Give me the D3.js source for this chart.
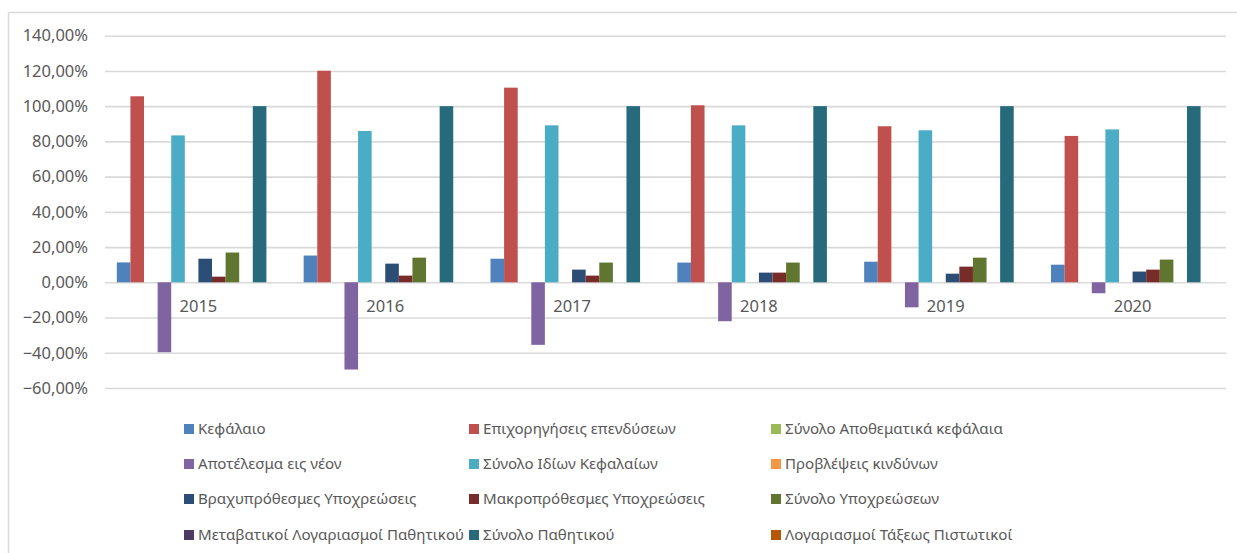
<!DOCTYPE html>
<html>
<head>
<meta charset="utf-8">
<script src="https://cdn.jsdelivr.net/npm/d3@7"></script>
<style>
  html, body { margin: 0; padding: 0; background: #fff; }
  svg { display: block; }
  text { font-family: "Noto Sans", sans-serif; fill: #595959; }
</style>
</head>
<body>
<svg id="chart" width="1237" height="553"></svg>
<script>
const years = ["2015", "2016", "2017", "2018", "2019", "2020"];
const seriesNames = [
  "Κεφάλαιο",
  "Επιχορηγήσεις επενδύσεων",
  "Σύνολο Αποθεματικά κεφάλαια",
  "Αποτέλεσμα εις νέον",
  "Σύνολο Ιδίων Κεφαλαίων",
  "Προβλέψεις κινδύνων",
  "Βραχυπρόθεσμες Υποχρεώσεις",
  "Μακροπρόθεσμες Υποχρεώσεις",
  "Σύνολο Υποχρεώσεων",
  "Μεταβατικοί Λογαριασμοί Παθητικού",
  "Σύνολο Παθητικού",
  "Λογαριασμοί Τάξεως Πιστωτικοί"
];
const seriesColors = ["#4F81BD", "#C0504D", "#9BBB59", "#8064A2", "#4BACC6", "#F79646",
                      "#2C4D75", "#772C2A", "#5F7530", "#4D3B62", "#276A7C", "#B65708"];
// values in %, one array per series, ordered by years
const kefalaio        = [11.3, 15.2, 13.4, 11.2, 11.7, 10.0];
const epichorigiseis  = [105.6, 120.1, 110.5, 100.5, 88.6, 83.1];
const apothematika    = [0, 0, 0, 0, 0, 0];
const apotelesma      = [-39.7, -49.5, -35.5, -22.1, -14.2, -6.2];
const idiaKefalaia    = [83.4, 85.9, 89.1, 89.1, 86.3, 86.8];
const provlepseis     = [0, 0, 0, 0, 0, 0];
const vrachyprothesmes = [13.4, 10.6, 7.2, 5.5, 4.9, 6.1];
const makroprothesmes = [3.2, 3.8, 3.8, 5.5, 8.9, 7.2];
const synoloYpochreoseon = [16.9, 14.0, 11.2, 11.2, 14.0, 12.9];
const metavatikoi     = [0, 0, 0, 0, 0, 0];
const synoloPathitikou = [100, 100, 100, 100, 100, 100];
const logariasmoiTaxeos = [0, 0, 0, 0, 0, 0];
const yTicks = [-60, -40, -20, 0, 20, 40, 60, 80, 100, 120, 140];

const seriesValues = [kefalaio, epichorigiseis, apothematika, apotelesma, idiaKefalaia, provlepseis,
  vrachyprothesmes, makroprothesmes, synoloYpochreoseon, metavatikoi, synoloPathitikou, logariasmoiTaxeos];

const svg = d3.select("#chart");
const plotLeft = 105, plotRight = 1226, plotTop = 35.7, plotBottom = 388;

// chart border (top and left visible)
svg.append("line").attr("x1", 8.5).attr("x2", 1237).attr("y1", 12.5).attr("y2", 12.5)
  .attr("stroke", "#d9d9d9").attr("stroke-width", 1.5);
svg.append("line").attr("x1", 8.5).attr("x2", 8.5).attr("y1", 12.5).attr("y2", 553)
  .attr("stroke", "#d9d9d9").attr("stroke-width", 1.5);

const x0 = d3.scaleBand().domain(years).range([plotLeft, plotRight]).paddingInner(0).paddingOuter(0);
const x1 = d3.scaleBand().domain(seriesNames).range([0, x0.bandwidth()]).paddingInner(0).paddingOuter(0.87);
const y = d3.scaleLinear().domain([-60, 140]).range([plotBottom, plotTop]);

const locale = d3.formatLocale({ decimal: ",", thousands: ".", grouping: [3], currency: ["", "€"] });
const fmt = v => locale.format(".2f")(v) + "%";

// gridlines
const yAxis = d3.axisLeft(y).tickValues(yTicks).tickSize(-(plotRight - plotLeft)).tickFormat(fmt).tickPadding(17);
const gy = svg.append("g").attr("transform", `translate(${plotLeft},0)`).call(yAxis);
gy.select(".domain").remove();
gy.selectAll(".tick line").attr("stroke", "#d9d9d9").attr("stroke-width", 1.6);
gy.selectAll(".tick text").attr("font-size", 16.5).attr("fill", "#595959")
  .style("font-family", "'Noto Sans', sans-serif");

// bars
const groups = svg.append("g").selectAll("g").data(years).join("g")
  .attr("transform", d => `translate(${x0(d)},0)`);
groups.selectAll("rect")
  .data((yr, i) => seriesNames.map((s, k) => ({ s, k, v: seriesValues[k][i] })))
  .join("rect")
  .attr("x", d => x1(d.s))
  .attr("width", x1.bandwidth())
  .attr("y", d => y(Math.max(0, d.v)))
  .attr("height", d => Math.abs(y(d.v) - y(0)))
  .attr("fill", d => seriesColors[d.k]);

// category labels next to axis
svg.append("g").selectAll("text").data(years).join("text")
  .attr("x", d => x0(d) + x0.bandwidth() / 2)
  .attr("y", y(0) + 30)
  .attr("text-anchor", "middle")
  .attr("font-size", 16.5)
  .text(d => d);

// legend
const legCols = [184, 469, 771];
const legRows = [429, 464, 499, 535];
const leg = svg.append("g").selectAll("g").data(seriesNames).join("g")
  .attr("transform", (d, i) => `translate(${legCols[i % 3]},${legRows[Math.floor(i / 3)]})`);
leg.append("rect").attr("x", 0).attr("y", -5).attr("width", 10).attr("height", 10)
  .attr("fill", (d, i) => seriesColors[i]);
leg.append("text").attr("x", 14).attr("y", 0).attr("dy", "0.35em")
  .attr("font-size", 15.1).text(d => d);
</script>
</body>
</html>
